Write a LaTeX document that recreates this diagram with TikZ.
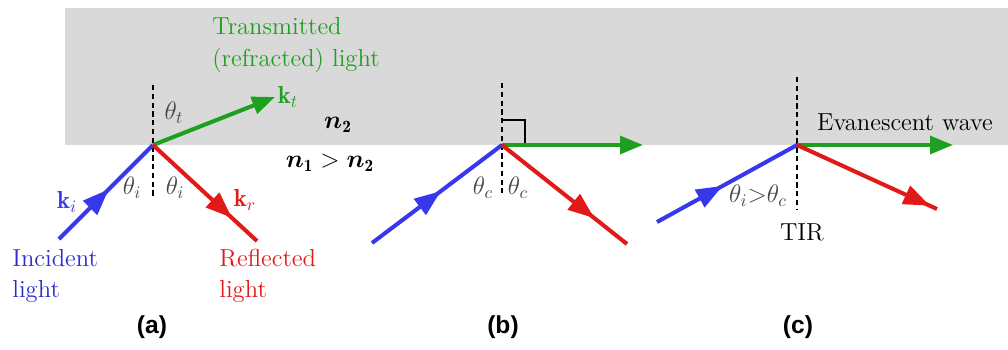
\documentclass[tikz,border=0pt]{standalone}
\usepackage{fontspec}
\usepackage{amsmath}
\usepackage{bm}
\newfontfamily\panelfont{Liberation Sans}
\usetikzlibrary{arrows.meta, decorations.markings}

\definecolor{bandgray}{RGB}{217,217,217}
\definecolor{rayblue}{RGB}{55,55,235}
\definecolor{rayred}{RGB}{225,25,25}
\definecolor{raygreen}{RGB}{30,160,30}
\definecolor{textblue}{RGB}{45,45,200}
\definecolor{anglegray}{RGB}{70,70,70}

\tikzset{
    ray/.style={line width=2.3pt},
    midarrow/.style={postaction={decorate}, decoration={markings,
        mark=at position #1 with {\arrow{Triangle[length=15pt,width=11pt]}}}},
    endarrow/.style={-{Triangle[length=13pt,width=10pt]}},
    normalline/.style={densely dashed, line width=0.8pt},
    lbl/.style={inner sep=0pt, font=\rmfamily\fontsize{14}{18}\selectfont},
    anglbl/.style={lbl, text=anglegray},
    panel/.style={inner sep=0pt, font=\panelfont\bfseries\fontsize{14}{16}\selectfont}
}

\begin{document}
\begin{tikzpicture}[x=0.02cm, y=-0.02cm]
    \useasboundingbox (0,0) rectangle (1008,349);
    \fill[bandgray] (65,8) rectangle (1008,145);

    % (a) refraction and reflection
    \coordinate (oa) at (153,145);
    \coordinate (na1) at (153,85);
    \coordinate (na2) at (153,197);
    \coordinate (ia) at (59,239);
    \coordinate (ta) at (275,97);
    \coordinate (ra) at (257,241);
    \draw[normalline] (na1) -- (na2);
    \draw[ray, rayblue, midarrow=0.53] (ia) -- (oa);
    \draw[ray, raygreen, endarrow] (oa) -- (ta);
    \draw[ray, rayred, midarrow=0.76] (oa) -- (ra);
    \node[lbl, text=rayblue] (ki) at (67,202) {$\mathbf{k}_i$};
    \node[anglbl] (thia) at (132,188) {$\theta_i$};
    \node[anglbl] (thra) at (175,188) {$\theta_i$};
    \node[lbl, text=rayred] (kr) at (245,200) {$\mathbf{k}_r$};
    \node[anglbl] (tht) at (174,113) {$\theta_t$};
    \node[lbl, text=raygreen] (kt) at (288,97) {$\mathbf{k}_t$};
    \node[lbl, text=raygreen, align=left, anchor=west] (trans) at (212,45) {Transmitted\\(refracted) light};
    \node[lbl] (n2) at (338,125) {$\bm{n}_{\mathbf{2}}$};
    \node[lbl] (n12) at (330,163) {$\bm{n}_{\mathbf{1}} > \bm{n}_{\mathbf{2}}$};
    \node[lbl, text=textblue, align=left, anchor=west] (inc) at (12,276) {Incident\\light};
    \node[lbl, text=rayred, align=left, anchor=west] (refl) at (219,276) {Reflected\\light};
    \node[panel] (pa) at (152,327) {(a)};

    % (b) critical angle
    \coordinate (ob) at (502,145);
    \coordinate (nb1) at (502,83);
    \coordinate (nb2) at (502,193);
    \coordinate (ib) at (372,243);
    \coordinate (tb) at (643,145);
    \coordinate (rb) at (627,244);
    \draw[normalline] (nb1) -- (nb2);
    \draw[line width=0.8pt] (502,120) -- (525,120) -- (525,145);
    \draw[ray, rayblue, midarrow=0.53] (ib) -- (ob);
    \draw[ray, raygreen, endarrow] (ob) -- (tb);
    \draw[ray, rayred, midarrow=0.74] (ob) -- (rb);
    \node[anglbl] (thcl) at (483,188) {$\theta_c$};
    \node[anglbl] (thcr) at (518,188) {$\theta_c$};
    \node[panel] (pb) at (503,327) {(b)};

    % (c) total internal reflection
    \coordinate (oc) at (797,145);
    \coordinate (nc1) at (797,77);
    \coordinate (nc2) at (797,210);
    \coordinate (ic) at (657,222);
    \coordinate (tc) at (953,145);
    \coordinate (rc) at (937,209);
    \draw[normalline] (nc1) -- (nc2);
    \draw[ray, rayblue, midarrow=0.47] (ic) -- (oc);
    \draw[ray, raygreen, endarrow] (oc) -- (tc);
    \draw[ray, rayred, midarrow=0.95] (oc) -- (rc);
    \node[lbl] (evan) at (905,122) {Evanescent wave};
    \node[anglbl] (thic) at (758,196) {$\theta_i{>}\theta_c$};
    \node[lbl] (tir) at (802,232) {TIR};
    \node[panel] (pc) at (798,327) {(c)};
\end{tikzpicture}
\end{document}
